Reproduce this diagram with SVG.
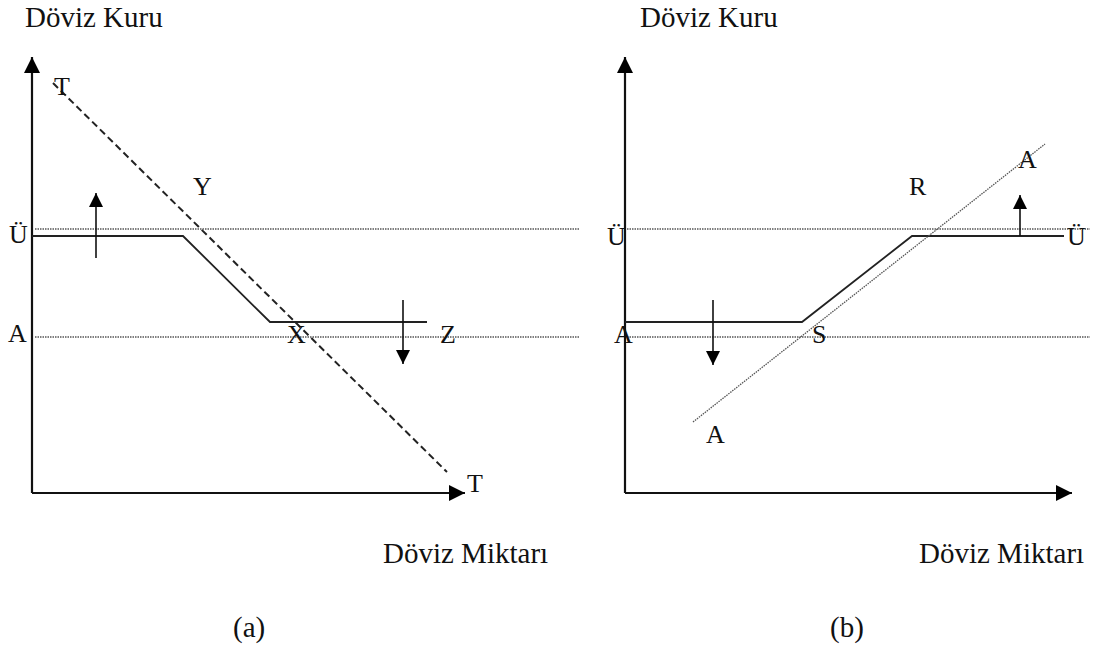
<svg xmlns="http://www.w3.org/2000/svg" width="1098" height="655" viewBox="0 0 1098 655">
<defs>
<style>
.txt{font-family:"Liberation Serif","Times New Roman",serif;fill:#111;}
.big{font-size:29px;}
.lbl{font-size:26px;}
.axis{stroke:#111;stroke-width:2.2;fill:none;}
.solid{stroke:#222;stroke-width:1.8;fill:none;}
.dot{stroke:#555;stroke-width:1.3;stroke-dasharray:1.5 1;fill:none;}
.dash{stroke:#222;stroke-width:2;stroke-dasharray:7 4;fill:none;}
.arr{stroke:#111;stroke-width:1.6;fill:none;}
</style>
<marker id="ah" viewBox="0 0 10 10" refX="10" refY="5" markerWidth="16" markerHeight="16" markerUnits="userSpaceOnUse" orient="auto">
<path d="M0,0 L10,5 L0,10 Z" fill="#000"/>
</marker>
<marker id="ahs" viewBox="0 0 10 10" refX="10" refY="5" markerWidth="14" markerHeight="14" markerUnits="userSpaceOnUse" orient="auto">
<path d="M0,0 L10,5 L0,10 Z" fill="#000"/>
</marker>
</defs>
<rect width="1098" height="655" fill="#fff"/>

<g id="panel-a">
<g id="axes-a">
<line class="axis" x1="32" y1="493" x2="32" y2="57" marker-end="url(#ah)"/>
<line class="axis" x1="32" y1="493" x2="465" y2="493" marker-end="url(#ah)"/>
</g>
<g id="connectors-a">
<line class="dot" x1="35" y1="229" x2="580" y2="229"/>
<line class="dot" x1="35" y1="337" x2="580" y2="337"/>
<polyline class="solid" points="32,236 183,236 270,322 427,322"/>
<line class="dash" x1="53" y1="83" x2="447" y2="472"/>
<line class="arr" x1="96" y1="258" x2="96" y2="193" marker-end="url(#ahs)"/>
<line class="arr" x1="403" y1="300" x2="403" y2="364" marker-end="url(#ahs)"/>
</g>
<g id="labels-a">
<text class="txt lbl" x="54" y="95">T</text>
<text class="txt lbl" x="193" y="195">Y</text>
<text class="txt lbl" x="9" y="243">Ü</text>
<text class="txt lbl" x="8" y="342">A</text>
<text class="txt lbl" x="287" y="343">X</text>
<text class="txt lbl" x="440" y="343">Z</text>
<text class="txt lbl" x="467" y="492">T</text>
</g>
</g>

<g id="panel-b">
<g id="axes-b">
<line class="axis" x1="625" y1="493" x2="625" y2="57" marker-end="url(#ah)"/>
<line class="axis" x1="625" y1="493" x2="1072" y2="493" marker-end="url(#ah)"/>
</g>
<g id="connectors-b">
<line class="dot" x1="627" y1="229" x2="1090" y2="229"/>
<line class="dot" x1="627" y1="337" x2="1090" y2="337"/>
<polyline class="solid" points="625,322 802,322 912,236 1064,236"/>
<line class="dot" x1="693" y1="422" x2="1045" y2="144"/>
<line class="arr" x1="1020" y1="236" x2="1020" y2="195" marker-end="url(#ahs)"/>
<line class="arr" x1="713" y1="300" x2="713" y2="365" marker-end="url(#ahs)"/>
</g>
<g id="labels-b">
<text class="txt lbl" x="1018" y="168">A</text>
<text class="txt lbl" x="909" y="195">R</text>
<text class="txt lbl" x="607" y="245">Ü</text>
<text class="txt lbl" x="1067" y="245">Ü</text>
<text class="txt lbl" x="614" y="343">A</text>
<text class="txt lbl" x="812" y="343">S</text>
<text class="txt lbl" x="706" y="443">A</text>
</g>
</g>

<g id="titles">
<text class="txt big" x="25" y="27">Döviz Kuru</text>
<text class="txt big" x="640" y="27">Döviz Kuru</text>
<text class="txt big" x="383" y="563">Döviz Miktarı</text>
<text class="txt big" x="919" y="563">Döviz Miktarı</text>
<text class="txt big" x="233" y="637">(a)</text>
<text class="txt big" x="830" y="637">(b)</text>
</g>
</svg>
